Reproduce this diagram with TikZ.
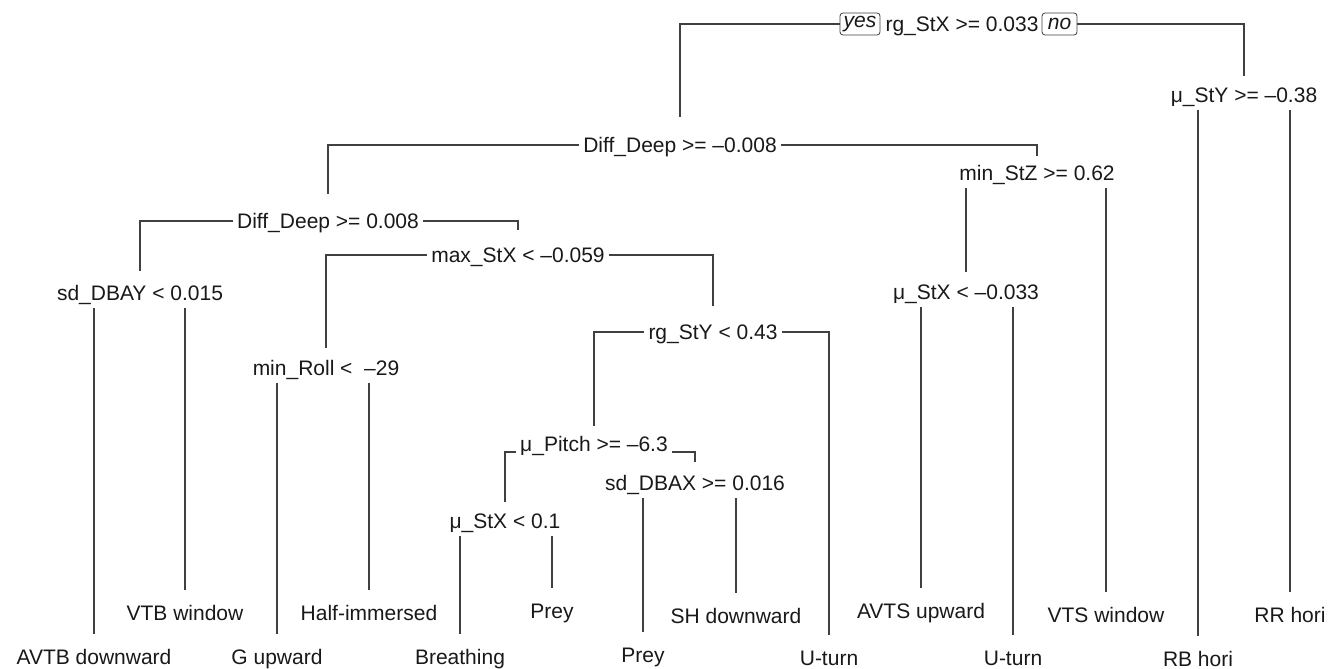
\documentclass[tikz,border=0pt]{standalone}
\usepackage{fontspec}
\setmainfont{Liberation Sans}
\definecolor{linec}{RGB}{64,64,64}
\definecolor{txtc}{RGB}{25,25,25}
\begin{document}
\begin{tikzpicture}[x=1pt,y=-1pt,
  every node/.style={font=\fontsize{21}{25}\selectfont, text=txtc},
  split/.style={anchor=center, inner xsep=4pt, inner ysep=0pt, text height=22.5pt, text depth=7.5pt},
  leaf/.style={anchor=center, inner xsep=2pt, inner ysep=0pt, text height=30.5pt, text depth=15.5pt},
  tag/.style={draw=linec, line width=0.8pt, rounded corners=3pt, inner sep=0pt, minimum height=22pt, font=\fontsize{21}{25}\selectfont\itshape},
  branch/.style={draw=linec, line width=1.3pt}]
\fill[white] (0,0) rectangle (1341,669);
\useasboundingbox (0,0) rectangle (1341,669);

% split nodes
\node[split] (root) at (962,24) {rg\_StX >= 0.033};
\node[tag, minimum width=40pt] (yes) at (860,24) {yes};
\node[tag, minimum width=35pt] (no) at (1059.5,24) {no};
\node[split] (dd1) at (680,145) {Diff\_Deep >= –0.008};
\node[split] (musty) at (1244,95) {μ\_StY >= –0.38};
\node[split] (dd2) at (328,221) {Diff\_Deep >= 0.008};
\node[split] (minstz) at (1037,173) {min\_StZ >= 0.62};
\node[split] (sddbay) at (140,293) {sd\_DBAY < 0.015};
\node[split] (maxstx) at (518,255) {max\_StX < –0.059};
\node[split] (mustx1) at (966,292) {μ\_StX < –0.033};
\node[split] (minroll) at (326,368) {min\_Roll <\ \ –29};
\node[split] (rgsty) at (713,332) {rg\_StY < 0.43};
\node[split] (mupitch) at (594,444) {μ\_Pitch >= –6.3};
\node[split] (sddbax) at (695,483) {sd\_DBAX >= 0.016};
\node[split] (mustx2) at (505,521) {μ\_StX < 0.1};

% leaves
\node[leaf] (avtb) at (94,657) {AVTB downward};
\node[leaf] (vtb) at (185,613) {VTB window};
\node[leaf] (gup) at (277,657) {G upward};
\node[leaf] (half) at (369,613) {Half-immersed};
\node[leaf] (breath) at (460,657) {Breathing};
\node[leaf] (prey1) at (552,611) {Prey};
\node[leaf] (prey2) at (643,655) {Prey};
\node[leaf] (shd) at (736,616) {SH downward};
\node[leaf] (uturn1) at (829,658) {U-turn};
\node[leaf] (avts) at (921,611) {AVTS upward};
\node[leaf] (uturn2) at (1013,658) {U-turn};
\node[leaf] (vts) at (1106,615) {VTS window};
\node[leaf] (rb) at (1198,659) {RB hori};
\node[leaf] (rr) at (1290,615) {RR hori};

% elbow branches
\draw[branch] (yes.west) -| ([yshift=13pt]dd1.north);
\draw[branch] (no.east) -| ([yshift=4pt]musty.north);
\draw[branch] (dd1.west) -| ([yshift=12pt]dd2.north);
\draw[branch] (dd1.east) -| ([yshift=2pt]minstz.north);
\draw[branch] (dd2.west) -| ([yshift=7pt]sddbay.north);
\draw[branch] (dd2.east) -| ([yshift=10pt]maxstx.north);
\draw[branch] (maxstx.west) -| ([yshift=5pt]minroll.north);
\draw[branch] (maxstx.east) -| ([yshift=11pt]rgsty.north);
\draw[branch] (rgsty.west) -| ([yshift=3pt]mupitch.north);
\draw[branch] (rgsty.east) -| (uturn1.north);
\draw[branch] ([yshift=-8pt]mupitch.west) -| ([yshift=4pt]mustx2.north);
\draw[branch] ([yshift=-8pt]mupitch.east) -| ([yshift=6pt]sddbax.north);

% vertical legs
\draw[branch] (sddbay.south -| avtb.north) -- (avtb.north);
\draw[branch] (sddbay.south -| vtb.north) -- (vtb.north);
\draw[branch] (minroll.south -| gup.north) -- (gup.north);
\draw[branch] (minroll.south -| half.north) -- (half.north);
\draw[branch] (mustx2.south -| breath.north) -- (breath.north);
\draw[branch] (mustx2.south -| prey1.north) -- (prey1.north);
\draw[branch] (sddbax.south -| prey2.north) -- (prey2.north);
\draw[branch] (sddbax.south -| shd.north) -- (shd.north);
\draw[branch] (mustx1.south -| avts.north) -- (avts.north);
\draw[branch] (mustx1.south -| uturn2.north) -- (uturn2.north);
\draw[branch] (minstz.south -| mustx1.north) -- ([yshift=5pt]mustx1.north);
\draw[branch] (minstz.south -| vts.north) -- (vts.north);
\draw[branch] (musty.south -| rb.north) -- (rb.north);
\draw[branch] (musty.south -| rr.north) -- (rr.north);
\end{tikzpicture}
\end{document}
